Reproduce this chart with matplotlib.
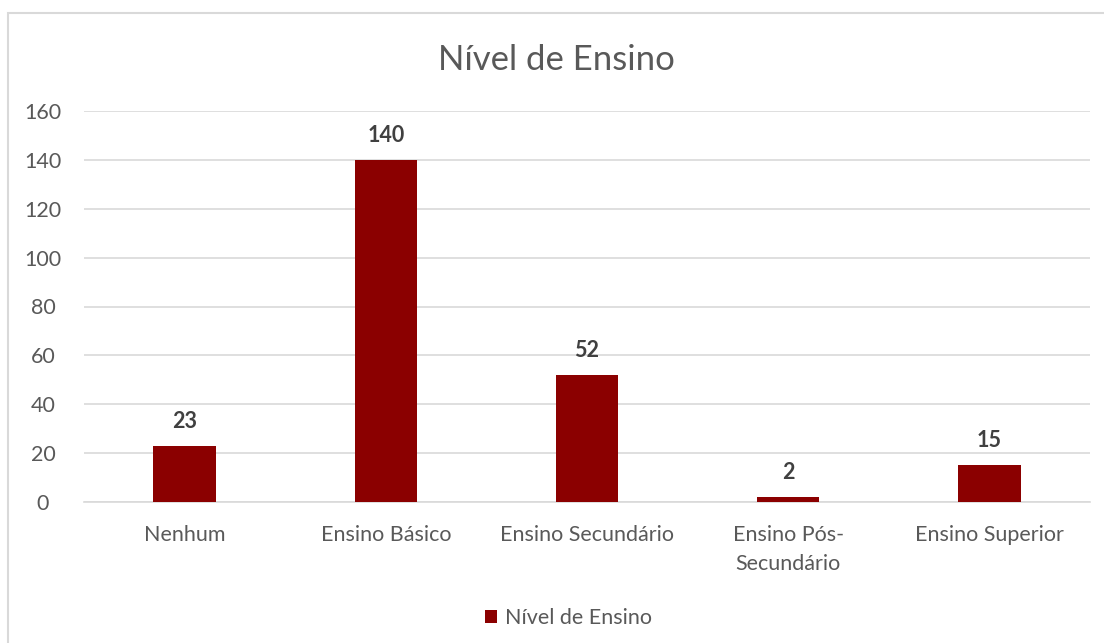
import matplotlib
matplotlib.use("Agg")
import matplotlib.pyplot as plt
from matplotlib.patches import Rectangle

plt.rcParams['font.family'] = ['Lato', 'DejaVu Sans']

categorias = ["Nenhum", "Ensino Básico", "Ensino Secundário", "Ensino Pós-\nSecundário", "Ensino Superior"]
valores = [23, 140, 52, 2, 15]
yticks = [0, 20, 40, 60, 80, 100, 120, 140, 160]
titulo = "Nível de Ensino"

cor_barra = "#8B0000"
cor_texto = "#595959"
cor_grelha = "#D9D9D9"

fig = plt.figure(figsize=(11.04, 6.43), dpi=100)
W, H = 1104, 643

# moldura do gráfico (estilo Excel)
fig.patches.append(Rectangle((8 / W, -0.01), 1.0, 1 - 13 / H + 0.01, transform=fig.transFigure,
                             fill=False, edgecolor=cor_grelha, linewidth=1.5))

ax = fig.add_axes([84 / W, 1 - 502 / H, (1090 - 84) / W, (502 - 111) / H])

x = list(range(len(categorias)))
barras = ax.bar(x, valores, width=0.31, color=cor_barra, zorder=3, label=titulo)

ax.set_xlim(-0.5, len(categorias) - 0.5)
ax.set_ylim(0, 160)
ax.set_yticks(yticks)
ax.yaxis.grid(True, color=cor_grelha, linewidth=1.2, zorder=0)
ax.set_axisbelow(True)

for s in ["top", "right", "left"]:
    ax.spines[s].set_visible(False)
ax.spines["bottom"].set_color(cor_grelha)
ax.spines["bottom"].set_linewidth(1.2)

ax.tick_params(axis="both", length=0, labelcolor=cor_texto, labelsize=15.5)
ax.tick_params(axis="y", pad=29.5)
ax.tick_params(axis="x", pad=16.5)
ax.set_xticks(x)
ax.set_xticklabels(categorias, linespacing=1.55)
for lab in ax.get_yticklabels():
    lab.set_horizontalalignment("center")

for b, v in zip(barras, valores):
    ax.annotate(str(v), (b.get_x() + b.get_width() / 2, v), xytext=(0, 10),
                textcoords="offset points", ha="center", va="bottom",
                fontsize=15.5, fontweight="bold", color="#404040")

fig.text(0.5 * (8 / W + 1), 1 - 59.5 / H, titulo, ha="center", va="center",
         fontsize=25, color=cor_texto)

leg = fig.legend(handles=[barras], labels=[titulo], loc="center", bbox_to_anchor=(0.515, 1 - 618 / H),
                 frameon=False, fontsize=15.5, handlelength=0.55, handleheight=0.55,
                 handletextpad=0.4, labelcolor=cor_texto)

fig.savefig("out.png", dpi=100)
